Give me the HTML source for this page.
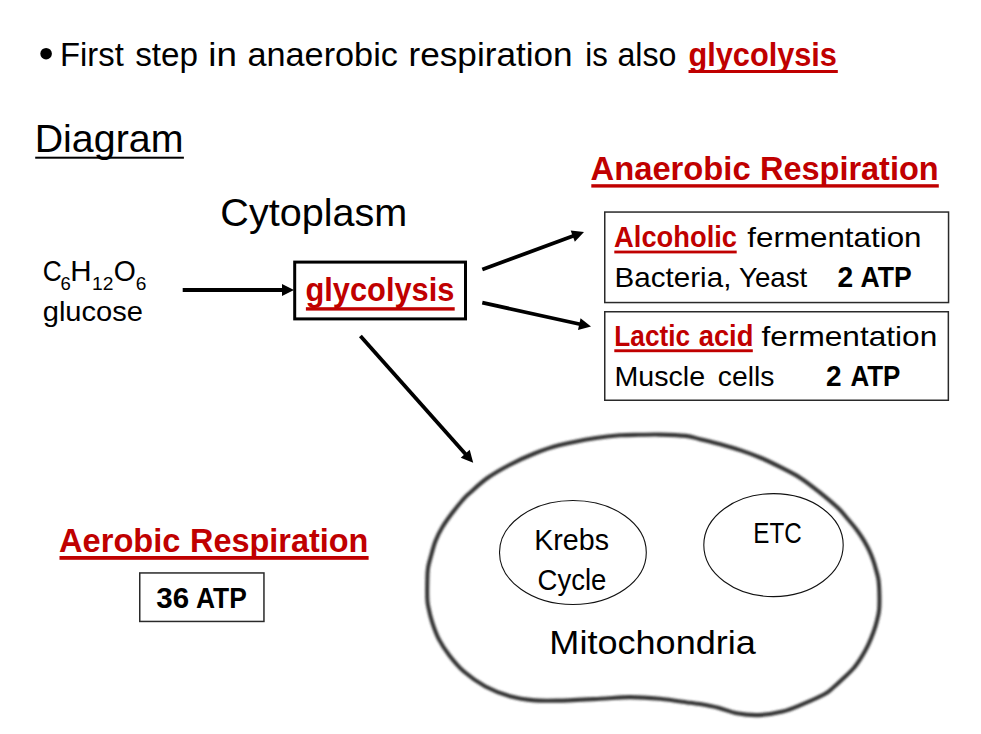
<!DOCTYPE html>
<html><head><meta charset="utf-8"><style>
html,body{margin:0;padding:0;background:#fff;width:981px;height:734px;overflow:hidden}
svg{display:block}
text{font-family:"Liberation Sans",sans-serif;white-space:pre}
</style></head><body>
<svg width="981" height="734" viewBox="0 0 981 734">
<defs><filter id="soft" x="-5%" y="-5%" width="110%" height="110%"><feGaussianBlur stdDeviation="0.85"/></filter></defs>
<rect width="981" height="734" fill="#fff"/>
<text x="60.07" y="65.7" font-size="33" fill="#000" textLength="63.68" lengthAdjust="spacingAndGlyphs">First</text>
<text x="135.19" y="65.7" font-size="33" fill="#000" textLength="62.79" lengthAdjust="spacingAndGlyphs">step</text>
<text x="208.39" y="65.7" font-size="33" fill="#000" textLength="28.65" lengthAdjust="spacingAndGlyphs">in</text>
<text x="247.44" y="65.7" font-size="33" fill="#000" textLength="150.45" lengthAdjust="spacingAndGlyphs">anaerobic</text>
<text x="408.5" y="65.7" font-size="33" fill="#000" textLength="164.11" lengthAdjust="spacingAndGlyphs">respiration</text>
<text x="585.28" y="65.7" font-size="33" fill="#000" textLength="22.45" lengthAdjust="spacingAndGlyphs">is</text>
<text x="617.44" y="65.7" font-size="33" fill="#000" textLength="59.03" lengthAdjust="spacingAndGlyphs">also</text>
<text x="688.44" y="65.7" font-size="33" font-weight="bold" fill="#C00000" textLength="148.51" lengthAdjust="spacingAndGlyphs">glycolysis</text>
<text x="34.71" y="152.3" font-size="38.2" fill="#000" textLength="148.73" lengthAdjust="spacingAndGlyphs">Diagram</text>
<text x="590.56" y="179.5" font-size="33" font-weight="bold" fill="#C00000" textLength="160.06" lengthAdjust="spacingAndGlyphs">Anaerobic</text>
<text x="759.99" y="179.5" font-size="33" font-weight="bold" fill="#C00000" textLength="178.63" lengthAdjust="spacingAndGlyphs">Respiration</text>
<text x="220.33" y="225.7" font-size="38.2" fill="#000" textLength="186.95" lengthAdjust="spacingAndGlyphs">Cytoplasm</text>
<text x="42.72" y="320.6" font-size="28.5" fill="#000" textLength="100.23" lengthAdjust="spacingAndGlyphs">glucose</text>
<text x="305.53" y="301" font-size="33" font-weight="bold" fill="#C00000" textLength="148.82" lengthAdjust="spacingAndGlyphs">glycolysis</text>
<text x="614.11" y="246.8" font-size="29.5" font-weight="bold" fill="#C00000" textLength="122.9" lengthAdjust="spacingAndGlyphs">Alcoholic</text>
<text x="747.32" y="246.9" font-size="28" fill="#000" textLength="174.2" lengthAdjust="spacingAndGlyphs">fermentation</text>
<text x="614.56" y="286.6" font-size="28.5" fill="#000" textLength="116.82" lengthAdjust="spacingAndGlyphs">Bacteria,</text>
<text x="738.97" y="286.6" font-size="28.5" fill="#000" textLength="68.29" lengthAdjust="spacingAndGlyphs">Yeast</text>
<text x="837.45" y="286.6" font-size="29.5" font-weight="bold" fill="#000" textLength="15.67" lengthAdjust="spacingAndGlyphs">2</text>
<text x="860.53" y="286.6" font-size="29.5" font-weight="bold" fill="#000" textLength="51.13" lengthAdjust="spacingAndGlyphs">ATP</text>
<text x="614.32" y="345.9" font-size="29.5" font-weight="bold" fill="#C00000" textLength="75.76" lengthAdjust="spacingAndGlyphs">Lactic</text>
<text x="698.71" y="345.9" font-size="29.5" font-weight="bold" fill="#C00000" textLength="54.68" lengthAdjust="spacingAndGlyphs">acid</text>
<text x="761.52" y="346" font-size="28" fill="#000" textLength="175.72" lengthAdjust="spacingAndGlyphs">fermentation</text>
<text x="614.44" y="386" font-size="28.5" fill="#000" textLength="90.65" lengthAdjust="spacingAndGlyphs">Muscle</text>
<text x="717.86" y="386" font-size="28.5" fill="#000" textLength="56.55" lengthAdjust="spacingAndGlyphs">cells</text>
<text x="825.95" y="386.3" font-size="29.5" font-weight="bold" fill="#000" textLength="15.56" lengthAdjust="spacingAndGlyphs">2</text>
<text x="850.44" y="386.3" font-size="29.5" font-weight="bold" fill="#000" textLength="49.99" lengthAdjust="spacingAndGlyphs">ATP</text>
<text x="59.06" y="551.8" font-size="33" font-weight="bold" fill="#C00000" textLength="121.45" lengthAdjust="spacingAndGlyphs">Aerobic</text>
<text x="189.99" y="551.8" font-size="33" font-weight="bold" fill="#C00000" textLength="178.42" lengthAdjust="spacingAndGlyphs">Respiration</text>
<text x="156.25" y="607.9" font-size="29.5" font-weight="bold" fill="#000" textLength="32.83" lengthAdjust="spacingAndGlyphs">36</text>
<text x="195.93" y="607.9" font-size="29.5" font-weight="bold" fill="#000" textLength="50.82" lengthAdjust="spacingAndGlyphs">ATP</text>
<text x="534.28" y="549.9" font-size="29" fill="#000" textLength="74.72" lengthAdjust="spacingAndGlyphs">Krebs</text>
<text x="537.58" y="589.5" font-size="29" fill="#000" textLength="68.82" lengthAdjust="spacingAndGlyphs">Cycle</text>
<text x="753.32" y="542.5" font-size="29" fill="#000" textLength="48.42" lengthAdjust="spacingAndGlyphs">ETC</text>
<text x="549.38" y="654" font-size="34" fill="#000" textLength="206.52" lengthAdjust="spacingAndGlyphs">Mitochondria</text>
<text x="42.66" y="280.7" font-size="29.5" fill="#000" textLength="19.01" lengthAdjust="spacingAndGlyphs">C</text>
<text x="70.3" y="280.7" font-size="29.5" fill="#000" textLength="21.31" lengthAdjust="spacingAndGlyphs">H</text>
<text x="113.76" y="280.7" font-size="29.5" fill="#000" textLength="22.04" lengthAdjust="spacingAndGlyphs">O</text>
<text x="60.46" y="289.5" font-size="17.8" fill="#000" textLength="10.31" lengthAdjust="spacingAndGlyphs">6</text>
<text x="91.95" y="289.5" font-size="17.8" fill="#000" textLength="21.4" lengthAdjust="spacingAndGlyphs">12</text>
<text x="135.72" y="289.5" font-size="17.8" fill="#000" textLength="10.67" lengthAdjust="spacingAndGlyphs">6</text>
<rect x="688.5" y="70" width="149.3" height="3" fill="#C00000"/>
<rect x="35.2" y="156.7" width="148.7" height="2" fill="#000"/>
<rect x="591.3" y="184.2" width="347.5" height="3.4" fill="#C00000"/>
<rect x="305.9" y="307.2" width="148.8" height="3.4" fill="#C00000"/>
<rect x="614.3" y="250.6" width="122.4" height="2.8" fill="#C00000"/>
<rect x="614.3" y="349.3" width="138.5" height="2.9" fill="#C00000"/>
<rect x="59.5" y="556" width="309.1" height="3.8" fill="#C00000"/>
<circle cx="46.1" cy="53.7" r="5.8" fill="#000"/>
<rect x="294.7" y="262.1" width="170.8" height="56.8" fill="none" stroke="#000" stroke-width="3"/>
<rect x="604.75" y="212.05" width="343.8" height="90.5" fill="none" stroke="#2a2a2a" stroke-width="1.5"/>
<rect x="604.75" y="311.75" width="343.6" height="88.5" fill="none" stroke="#2a2a2a" stroke-width="1.5"/>
<rect x="139.75" y="572.95" width="124.2" height="48.5" fill="none" stroke="#2a2a2a" stroke-width="1.5"/>
<line x1="182.7" y1="290" x2="283" y2="290" stroke="#000" stroke-width="3.8"/><polygon points="294,290 282,296 282,284" fill="#000"/>
<line x1="482.3" y1="269.5" x2="573.68" y2="235.81" stroke="#000" stroke-width="3.8"/><polygon points="584,232 574.82,241.78 570.67,230.52" fill="#000"/>
<line x1="482.3" y1="302.7" x2="580.26" y2="324.24" stroke="#000" stroke-width="3.8"/><polygon points="591,326.6 577.99,329.88 580.57,318.16" fill="#000"/>
<line x1="360.4" y1="335.9" x2="465.89" y2="454.58" stroke="#000" stroke-width="3.8"/><polygon points="473.2,462.8 460.74,457.82 469.71,449.84" fill="#000"/>
<ellipse cx="572.9" cy="552.5" rx="73.4" ry="52.0" fill="none" stroke="#111" stroke-width="1.1"/>
<ellipse cx="773.5" cy="545.1" rx="69.7" ry="51.5" fill="none" stroke="#111" stroke-width="1.1"/>
<path d="M427.3,598.2 C427.15,594.1 427.18,586.8 427.3,581.8 C427.42,576.8 427.32,572.75 428,568.2 C428.68,563.65 430.15,559.05 431.4,554.5 C432.65,549.95 433.68,545.43 435.5,540.9 C437.32,536.37 439.58,531.85 442.3,527.3 C445.02,522.75 448.4,518.15 451.8,513.6 C455.2,509.05 459.75,503.4 462.7,500 C465.65,496.6 465.38,496.87 469.5,493.2 C473.62,489.53 480.67,482.75 487.4,478 C494.13,473.25 502.07,468.78 509.9,464.7 C517.73,460.62 526.22,456.73 534.4,453.5 C542.58,450.27 548.73,447.88 559,445.3 C569.27,442.72 585.83,439.67 596,438 C606.17,436.33 612.67,435.83 620,435.3 C627.33,434.77 633.33,434.92 640,434.8 C646.67,434.68 652.37,434.42 660,434.6 C667.63,434.78 679.13,435.13 685.8,435.9 C692.47,436.67 694.23,437.8 700,439.2 C705.77,440.6 713.6,442.43 720.4,444.3 C727.2,446.17 734,448.12 740.8,450.4 C747.6,452.68 754.42,455.12 761.2,458 C767.98,460.88 775.03,464.42 781.5,467.7 C787.97,470.98 793.73,473.67 800,477.7 C806.27,481.73 812.75,486.83 819.1,491.9 C825.45,496.97 833.25,503.5 838.1,508.1 C842.95,512.7 845.05,515.82 848.2,519.5 C851.35,523.18 854.4,526.72 857,530.2 C859.6,533.68 861.75,536.98 863.8,540.4 C865.85,543.82 867.7,547.28 869.3,550.7 C870.9,554.12 872.27,557.68 873.4,560.9 C874.53,564.12 875.25,566.82 876.1,570 C876.95,573.18 877.95,575.83 878.5,580 C879.05,584.17 879.3,590 879.4,595 C879.5,600 879.52,605.68 879.1,610 C878.68,614.32 877.82,617.27 876.9,620.9 C875.98,624.53 875.05,627.8 873.6,631.8 C872.15,635.8 870.2,640.72 868.2,644.9 C866.2,649.08 863.97,653.08 861.6,656.9 C859.23,660.72 856.9,664.35 854,667.8 C851.1,671.25 847.65,674.32 844.2,677.6 C840.75,680.88 836.53,684.77 833.3,687.5 C830.07,690.23 829.88,691.23 824.8,694 C819.72,696.77 809.83,701.18 802.8,704.1 C795.77,707.02 789.95,709.67 782.6,711.5 C775.25,713.33 766.35,714.8 758.7,715.1 C751.05,715.4 743.43,714.52 736.7,713.3 C729.97,712.08 724.42,709.33 718.3,707.8 C712.18,706.27 704.72,704.93 700,704.1 C695.28,703.27 696.67,703.68 690,702.8 C683.33,701.92 670,699.75 660,698.8 C650,697.85 640,697.1 630,697.1 C620,697.1 611.67,698.22 600,698.8 C588.33,699.38 570.92,700.33 560,700.6 C549.08,700.87 542.83,701.12 534.5,700.4 C526.17,699.68 518.18,698.62 510,696.3 C501.82,693.98 493.03,690.58 485.4,686.5 C477.77,682.42 470.2,676.98 464.2,671.8 C458.2,666.62 453.63,660.85 449.4,655.4 C445.17,649.95 441.65,644.55 438.8,639.1 C435.95,633.65 434.07,628.15 432.3,622.7 C430.53,617.25 429.03,610.48 428.2,606.4 C427.37,602.32 427.45,602.3 427.3,598.2Z" fill="none" stroke="#363636" stroke-width="4.1" stroke-linejoin="round" filter="url(#soft)"/>
</svg>
</body></html>
